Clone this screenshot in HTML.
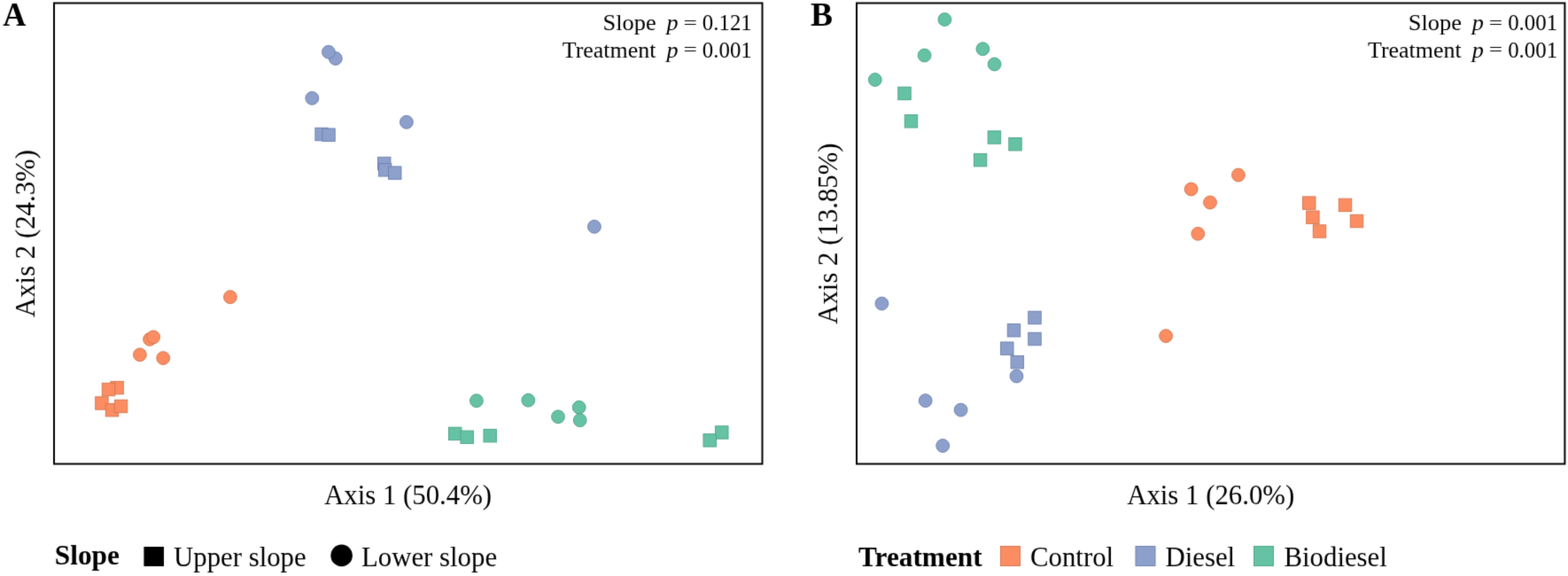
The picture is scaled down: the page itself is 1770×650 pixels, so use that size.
<!DOCTYPE html>
<html><head><meta charset="utf-8"><title>PCoA ordination</title>
<style>
html,body{margin:0;padding:0;background:#fff;width:1770px;height:650px;overflow:hidden}
svg{display:block}
text{font-family:"Liberation Serif","Times New Roman",serif;fill:#000}
.lab{font-size:30.8px}
.pv{font-size:25.7px}
.bold{font-weight:bold}
.it{font-style:italic}
.mk circle,.mk rect{stroke-width:1}
</style></head><body>
<svg width="1770" height="650" viewBox="0 0 1770 650">
<defs><filter id="soft" x="0" y="0" width="1770" height="650" filterUnits="userSpaceOnUse" color-interpolation-filters="sRGB"><feConvolveMatrix order="3" kernelMatrix="0.0144 0.0912 0.0144 0.0912 0.5776 0.0912 0.0144 0.0912 0.0144" edgeMode="duplicate"/></filter></defs>
<g filter="url(#soft)">
<rect x="0" y="0" width="1770" height="650" fill="#fff"/>
<!-- Panel A -->
<text x="3.25" y="28.5" class="bold" font-size="37.5" textLength="26.2" lengthAdjust="spacingAndGlyphs">A</text>
<rect x="61" y="3.5" width="799.5" height="520" fill="none" stroke="#000" stroke-width="2"/>
<g class="mk">
<circle cx="378.8" cy="66.0" r="7.4" fill="#8DA0CB" stroke="#7183B2"/>
<circle cx="370.9" cy="58.7" r="7.4" fill="#8DA0CB" stroke="#7183B2"/>
<circle cx="352.3" cy="110.8" r="7.4" fill="#8DA0CB" stroke="#7183B2"/>
<circle cx="458.9" cy="137.8" r="7.4" fill="#8DA0CB" stroke="#7183B2"/>
<circle cx="670.9" cy="255.8" r="7.4" fill="#8DA0CB" stroke="#7183B2"/>
<rect x="355.90" y="144.30" width="14.4" height="14.4" fill="#8DA0CB" stroke="#7183B2"/>
<rect x="363.80" y="145.00" width="14.4" height="14.4" fill="#8DA0CB" stroke="#7183B2"/>
<rect x="426.50" y="177.30" width="14.4" height="14.4" fill="#8DA0CB" stroke="#7183B2"/>
<rect x="427.40" y="184.60" width="14.4" height="14.4" fill="#8DA0CB" stroke="#7183B2"/>
<rect x="438.50" y="187.90" width="14.4" height="14.4" fill="#8DA0CB" stroke="#7183B2"/>
<circle cx="259.9" cy="335.2" r="7.4" fill="#FC8D62" stroke="#D57852"/>
<circle cx="169.1" cy="382.8" r="7.4" fill="#FC8D62" stroke="#D57852"/>
<circle cx="173.1" cy="380.4" r="7.4" fill="#FC8D62" stroke="#D57852"/>
<circle cx="157.9" cy="400.3" r="7.4" fill="#FC8D62" stroke="#D57852"/>
<circle cx="184.2" cy="404.1" r="7.4" fill="#FC8D62" stroke="#D57852"/>
<rect x="124.90" y="430.40" width="14.4" height="14.4" fill="#FC8D62" stroke="#D57852"/>
<rect x="115.30" y="432.30" width="14.4" height="14.4" fill="#FC8D62" stroke="#D57852"/>
<rect x="107.70" y="447.80" width="14.4" height="14.4" fill="#FC8D62" stroke="#D57852"/>
<rect x="119.30" y="455.50" width="14.4" height="14.4" fill="#FC8D62" stroke="#D57852"/>
<rect x="129.30" y="451.30" width="14.4" height="14.4" fill="#FC8D62" stroke="#D57852"/>
<circle cx="537.9" cy="452.2" r="7.4" fill="#66C2A5" stroke="#50A688"/>
<circle cx="596.3" cy="451.7" r="7.4" fill="#66C2A5" stroke="#50A688"/>
<circle cx="630.0" cy="470.3" r="7.4" fill="#66C2A5" stroke="#50A688"/>
<circle cx="653.7" cy="459.7" r="7.4" fill="#66C2A5" stroke="#50A688"/>
<circle cx="654.7" cy="474.2" r="7.4" fill="#66C2A5" stroke="#50A688"/>
<rect x="506.50" y="482.20" width="14.4" height="14.4" fill="#66C2A5" stroke="#50A688"/>
<rect x="520.00" y="486.10" width="14.4" height="14.4" fill="#66C2A5" stroke="#50A688"/>
<rect x="546.00" y="484.50" width="14.4" height="14.4" fill="#66C2A5" stroke="#50A688"/>
<rect x="807.60" y="480.80" width="14.4" height="14.4" fill="#66C2A5" stroke="#50A688"/>
<rect x="794.00" y="489.70" width="14.4" height="14.4" fill="#66C2A5" stroke="#50A688"/>
</g>
<text class="pv" x="680.54" y="33.7" textLength="60.08" lengthAdjust="spacingAndGlyphs">Slope</text><text class="pv it" x="752.43" y="33.7" textLength="13.06" lengthAdjust="spacingAndGlyphs">p</text><text class="pv" transform="matrix(1 0 0 0.73 0 6.927)" x="771.44" y="33.7" textLength="15.39" lengthAdjust="spacingAndGlyphs">=</text><text class="pv" style="font-size:26.2px" x="792.85" y="33.7" textLength="55.94" lengthAdjust="spacingAndGlyphs">0.121</text>
<text class="pv" x="634.74" y="64.5" textLength="105.61" lengthAdjust="spacingAndGlyphs">Treatment</text><text class="pv it" x="752.43" y="64.5" textLength="13.06" lengthAdjust="spacingAndGlyphs">p</text><text class="pv" transform="matrix(1 0 0 0.73 0 15.243)" x="771.44" y="64.5" textLength="15.39" lengthAdjust="spacingAndGlyphs">=</text><text class="pv" style="font-size:26.2px" x="792.85" y="64.5" textLength="55.94" lengthAdjust="spacingAndGlyphs">0.001</text>
<text class="lab" x="460.6" y="568.8" text-anchor="middle">Axis 1 (50.4%)</text>
<text class="lab" transform="translate(38.5,263.5) rotate(-90)" text-anchor="middle">Axis 2 (24.3%)</text>
<!-- legend A -->
<text class="lab bold" x="61.8" y="636.8" style="font-size:31.3px">Slope</text>
<rect x="162.4" y="617" width="22.6" height="22" fill="#000"/>
<text class="lab" x="196" y="638.8">Upper slope</text>
<circle cx="385.6" cy="626.9" r="12.3" fill="#000"/>
<text class="lab" x="408" y="638.8">Lower slope</text>

<!-- Panel B -->
<text x="914.9" y="29" class="bold" font-size="37.5">B</text>
<rect x="967" y="3.5" width="799.4" height="520" fill="none" stroke="#000" stroke-width="2"/>
<g class="mk">
<circle cx="1066.4" cy="22.0" r="7.4" fill="#66C2A5" stroke="#50A688"/>
<circle cx="1043.6" cy="62.5" r="7.4" fill="#66C2A5" stroke="#50A688"/>
<circle cx="1109.4" cy="55.2" r="7.4" fill="#66C2A5" stroke="#50A688"/>
<circle cx="1122.6" cy="72.5" r="7.4" fill="#66C2A5" stroke="#50A688"/>
<circle cx="987.8" cy="90.0" r="7.4" fill="#66C2A5" stroke="#50A688"/>
<rect x="1013.80" y="98.20" width="14.4" height="14.4" fill="#66C2A5" stroke="#50A688"/>
<rect x="1021.30" y="129.60" width="14.4" height="14.4" fill="#66C2A5" stroke="#50A688"/>
<rect x="1115.20" y="147.80" width="14.4" height="14.4" fill="#66C2A5" stroke="#50A688"/>
<rect x="1138.80" y="155.50" width="14.4" height="14.4" fill="#66C2A5" stroke="#50A688"/>
<rect x="1099.40" y="173.40" width="14.4" height="14.4" fill="#66C2A5" stroke="#50A688"/>
<circle cx="1344.6" cy="213.5" r="7.4" fill="#FC8D62" stroke="#D57852"/>
<circle cx="1397.9" cy="197.5" r="7.4" fill="#FC8D62" stroke="#D57852"/>
<circle cx="1366.0" cy="228.5" r="7.4" fill="#FC8D62" stroke="#D57852"/>
<circle cx="1352.3" cy="263.8" r="7.4" fill="#FC8D62" stroke="#D57852"/>
<circle cx="1316.1" cy="379.1" r="7.4" fill="#FC8D62" stroke="#D57852"/>
<rect x="1470.50" y="221.90" width="14.4" height="14.4" fill="#FC8D62" stroke="#D57852"/>
<rect x="1474.70" y="238.00" width="14.4" height="14.4" fill="#FC8D62" stroke="#D57852"/>
<rect x="1482.30" y="253.80" width="14.4" height="14.4" fill="#FC8D62" stroke="#D57852"/>
<rect x="1511.30" y="224.20" width="14.4" height="14.4" fill="#FC8D62" stroke="#D57852"/>
<rect x="1524.30" y="242.30" width="14.4" height="14.4" fill="#FC8D62" stroke="#D57852"/>
<circle cx="995.4" cy="342.6" r="7.4" fill="#8DA0CB" stroke="#7183B2"/>
<circle cx="1044.7" cy="452.1" r="7.4" fill="#8DA0CB" stroke="#7183B2"/>
<circle cx="1084.6" cy="462.6" r="7.4" fill="#8DA0CB" stroke="#7183B2"/>
<circle cx="1064.2" cy="503.0" r="7.4" fill="#8DA0CB" stroke="#7183B2"/>
<circle cx="1147.5" cy="424.5" r="7.4" fill="#8DA0CB" stroke="#7183B2"/>
<rect x="1160.80" y="351.30" width="14.4" height="14.4" fill="#8DA0CB" stroke="#7183B2"/>
<rect x="1137.30" y="365.60" width="14.4" height="14.4" fill="#8DA0CB" stroke="#7183B2"/>
<rect x="1160.80" y="375.30" width="14.4" height="14.4" fill="#8DA0CB" stroke="#7183B2"/>
<rect x="1129.60" y="386.00" width="14.4" height="14.4" fill="#8DA0CB" stroke="#7183B2"/>
<rect x="1141.10" y="401.50" width="14.4" height="14.4" fill="#8DA0CB" stroke="#7183B2"/>
</g>
<text class="pv" x="1589.84" y="33.7" textLength="60.08" lengthAdjust="spacingAndGlyphs">Slope</text><text class="pv it" x="1661.73" y="33.7" textLength="13.06" lengthAdjust="spacingAndGlyphs">p</text><text class="pv" transform="matrix(1 0 0 0.73 0 6.927)" x="1680.74" y="33.7" textLength="15.39" lengthAdjust="spacingAndGlyphs">=</text><text class="pv" style="font-size:26.2px" x="1702.15" y="33.7" textLength="55.94" lengthAdjust="spacingAndGlyphs">0.001</text>
<text class="pv" x="1544.04" y="64.5" textLength="105.61" lengthAdjust="spacingAndGlyphs">Treatment</text><text class="pv it" x="1661.73" y="64.5" textLength="13.06" lengthAdjust="spacingAndGlyphs">p</text><text class="pv" transform="matrix(1 0 0 0.73 0 15.243)" x="1680.74" y="64.5" textLength="15.39" lengthAdjust="spacingAndGlyphs">=</text><text class="pv" style="font-size:26.2px" x="1702.15" y="64.5" textLength="55.94" lengthAdjust="spacingAndGlyphs">0.001</text>
<text class="lab" x="1366.7" y="568.8" text-anchor="middle">Axis 1 (26.0%)</text>
<text class="lab" transform="translate(944.7,263.6) rotate(-90)" text-anchor="middle">Axis 2 (13.85%)</text>
<!-- legend B -->
<text class="lab bold" x="969" y="638.6" style="font-size:31.3px">Treatment</text>
<rect x="1129.5" y="616.5" width="22" height="22" fill="#FC8D62" stroke="#D57852"/>
<text class="lab" x="1163" y="638.8">Control</text>
<rect x="1282" y="616.5" width="22" height="22" fill="#8DA0CB" stroke="#7183B2"/>
<text class="lab" x="1315.5" y="638.8">Diesel</text>
<rect x="1415.5" y="616.5" width="22" height="22" fill="#66C2A5" stroke="#50A688"/>
<text class="lab" x="1449.5" y="638.8">Biodiesel</text>
</g>
</svg>
</body></html>
